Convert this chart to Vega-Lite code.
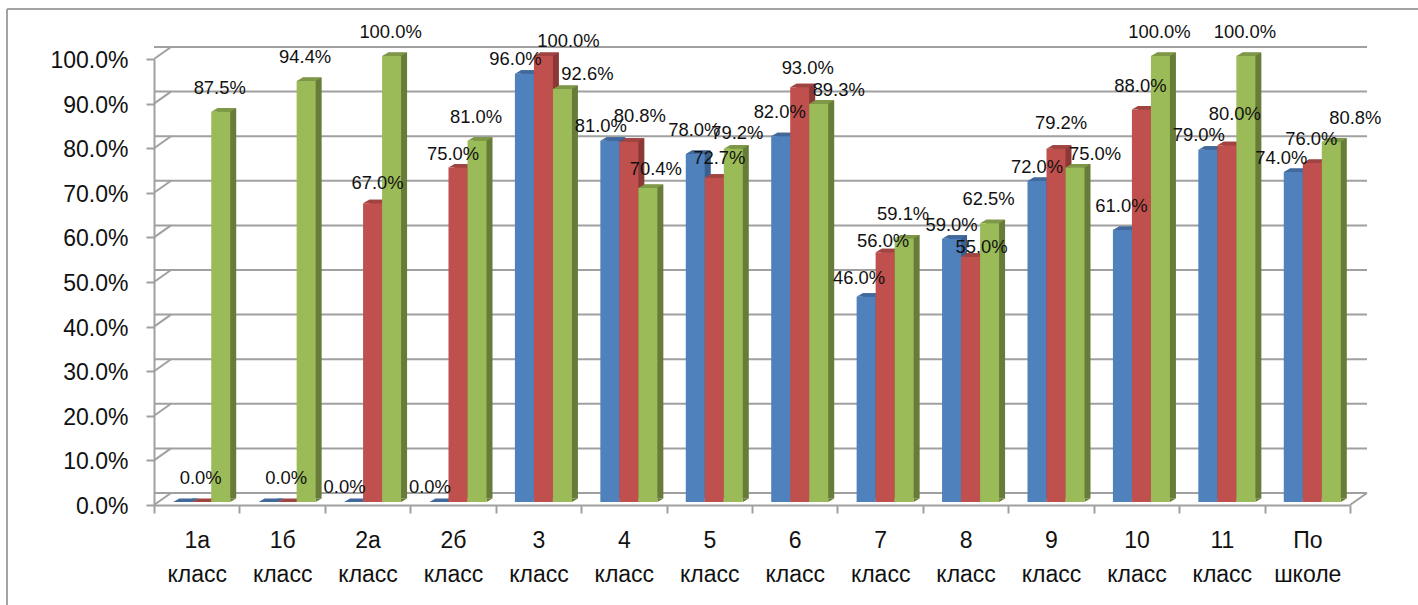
{"$schema":"https://vega.github.io/schema/vega-lite/v6.json","width":1196,"height":446,"autosize":{"type":"none"},"padding":{"left":154,"top":59,"right":68,"bottom":100},"background":"white","config":{"view":{"stroke":null},"text":{"font":"Liberation Sans","fontSize":18.4,"color":"#111111"}},"datasets":{"grid":[{"v":0},{"v":0.1},{"v":0.2},{"v":0.3},{"v":0.4},{"v":0.5},{"v":0.6},{"v":0.7},{"v":0.8},{"v":0.9},{"v":1}],"bars":[
{"id":"1aB","class":"1а класс","series":"Ряд 1","value":0},{"id":"1aR","class":"1а класс","series":"Ряд 2","value":0},{"id":"1aG","class":"1а класс","series":"Ряд 3","value":0.875},
{"id":"1bB","class":"1б класс","series":"Ряд 1","value":0},{"id":"1bR","class":"1б класс","series":"Ряд 2","value":0},{"id":"1bG","class":"1б класс","series":"Ряд 3","value":0.944},
{"id":"2aB","class":"2а класс","series":"Ряд 1","value":0},{"id":"2aR","class":"2а класс","series":"Ряд 2","value":0.67},{"id":"2aG","class":"2а класс","series":"Ряд 3","value":1},
{"id":"2bB","class":"2б класс","series":"Ряд 1","value":0},{"id":"2bR","class":"2б класс","series":"Ряд 2","value":0.75},{"id":"2bG","class":"2б класс","series":"Ряд 3","value":0.81},
{"id":"3B","class":"3 класс","series":"Ряд 1","value":0.96},{"id":"3R","class":"3 класс","series":"Ряд 2","value":1},{"id":"3G","class":"3 класс","series":"Ряд 3","value":0.926},
{"id":"4B","class":"4 класс","series":"Ряд 1","value":0.81},{"id":"4R","class":"4 класс","series":"Ряд 2","value":0.808},{"id":"4G","class":"4 класс","series":"Ряд 3","value":0.704},
{"id":"5B","class":"5 класс","series":"Ряд 1","value":0.78},{"id":"5R","class":"5 класс","series":"Ряд 2","value":0.727},{"id":"5G","class":"5 класс","series":"Ряд 3","value":0.792},
{"id":"6B","class":"6 класс","series":"Ряд 1","value":0.82},{"id":"6R","class":"6 класс","series":"Ряд 2","value":0.93},{"id":"6G","class":"6 класс","series":"Ряд 3","value":0.893},
{"id":"7B","class":"7 класс","series":"Ряд 1","value":0.46},{"id":"7R","class":"7 класс","series":"Ряд 2","value":0.56},{"id":"7G","class":"7 класс","series":"Ряд 3","value":0.591},
{"id":"8B","class":"8 класс","series":"Ряд 1","value":0.59},{"id":"8R","class":"8 класс","series":"Ряд 2","value":0.55},{"id":"8G","class":"8 класс","series":"Ряд 3","value":0.625},
{"id":"9B","class":"9 класс","series":"Ряд 1","value":0.72},{"id":"9R","class":"9 класс","series":"Ряд 2","value":0.792},{"id":"9G","class":"9 класс","series":"Ряд 3","value":0.75},
{"id":"10B","class":"10 класс","series":"Ряд 1","value":0.61},{"id":"10R","class":"10 класс","series":"Ряд 2","value":0.88},{"id":"10G","class":"10 класс","series":"Ряд 3","value":1},
{"id":"11B","class":"11 класс","series":"Ряд 1","value":0.79},{"id":"11R","class":"11 класс","series":"Ряд 2","value":0.8},{"id":"11G","class":"11 класс","series":"Ряд 3","value":1},
{"id":"SB","class":"По школе","series":"Ряд 1","value":0.74},{"id":"SR","class":"По школе","series":"Ряд 2","value":0.76},{"id":"SG","class":"По школе","series":"Ряд 3","value":0.808}
]},
"resolve":{"scale":{"color":"independent","xOffset":"independent"}},
"layer":[
{"data":{"values":[{"k":"frame"}]},"mark":{"type":"rule","stroke":"#a3a3a3","strokeWidth":2},"encoding":{"x":{"value":-147},"x2":{"value":1264},"y":{"value":-50}}},
{"data":{"values":[{"k":"frame"}]},"mark":{"type":"rule","stroke":"#a3a3a3","strokeWidth":2},"encoding":{"x":{"value":-147},"y":{"value":-50},"y2":{"value":546}}},
{"data":{"name":"grid"},"mark":{"type":"rule","color":"#a0a0a0","strokeWidth":2,"xOffset":17,"x2Offset":17,"yOffset":-12,"y2Offset":-12},"encoding":{"y":{"field":"v","type":"quantitative","scale":{"domain":[0,1],"nice":false},"axis":{"values":[0,0.1,0.2,0.3,0.4,0.5,0.6,0.7,0.8,0.9,1],"format":".1%","title":null,"grid":false,"domainColor":"#a0a0a0","domainWidth":2,"tickColor":"#a0a0a0","tickWidth":2,"tickSize":8,"labelFont":"Liberation Sans","labelFontSize":23,"labelColor":"#111111","labelPadding":18,"labelOffset":1.5}}}},
{"data":{"name":"grid"},"mark":{"type":"point","filled":false,"stroke":"#a0a0a0","strokeWidth":2,"shape":"M0,0L17,-12","size":4,"opacity":1},"encoding":{"x":{"value":0},"y":{"field":"v","type":"quantitative"}}},
{"data":{"values":[{"v":0}]},"mark":{"type":"point","filled":false,"stroke":"#a0a0a0","strokeWidth":2,"shape":"M0,0L17,-12","size":4,"opacity":1},"encoding":{"x":{"value":1196},"y":{"field":"v","type":"quantitative"}}},
{"data":{"name":"bars"},"mark":{"type":"bar","yOffset":-6.5,"y2Offset":-6.5},"encoding":{
"x":{"field":"class","type":"nominal","sort":null,"scale":{"paddingInner":0,"paddingOuter":0},"axis":{"title":null,"labelAngle":0,"tickBand":"extent","domainColor":"#a0a0a0","domainWidth":2,"tickColor":"#a0a0a0","tickWidth":2,"tickSize":8,"labelFont":"Liberation Sans","labelFontSize":23,"labelColor":"#111111","labelPadding":16.5,"labelLineHeight":34,"labelExpr":"split(datum.label,' ')"}},
"xOffset":{"field":"series","type":"nominal","sort":null,"scale":{"paddingOuter":0.747,"paddingInner":0,"align":0.887}},
"y":{"field":"value","type":"quantitative"},
"color":{"field":"series","type":"nominal","legend":null,"scale":{"domain":["Ряд 1","Ряд 2","Ряд 3"],"range":["#3A6090","#8C3836","#667C38"]}}}},
{"data":{"name":"bars"},"resolve":{"scale":{"color":"independent"}},"encoding":{"x":{"field":"class","type":"nominal","sort":null},"xOffset":{"field":"series","type":"nominal","sort":null,"scale":{"paddingOuter":0.747,"paddingInner":0,"align":0.676}},"y":{"field":"value","type":"quantitative"}},
"layer":[
{"mark":{"type":"point","filled":true,"stroke":null,"opacity":1,"size":4,"shape":"M9.5,0L15.5,-3.5L9.5,-3.5Z","yOffset":-3},"encoding":{"y":{"datum":0},"color":{"field":"series","type":"nominal","legend":null,"scale":{"domain":["Ряд 1","Ряд 2","Ряд 3"],"range":["#3A6090","#8C3836","#667C38"]}}}},
{"mark":{"type":"point","filled":true,"stroke":null,"opacity":1,"size":4,"shape":"M-9.5,0L9.5,0L15.5,-3.5L-3.5,-3.5Z","yOffset":-3},"encoding":{"color":{"field":"series","type":"nominal","legend":null,"scale":{"domain":["Ряд 1","Ряд 2","Ряд 3"],"range":["#41699C","#A04441","#7E9847"]}}}},
{"mark":{"type":"bar","yOffset":-3,"y2Offset":-3},"encoding":{"color":{"field":"series","type":"nominal","legend":null,"scale":{"domain":["Ряд 1","Ряд 2","Ряд 3"],"range":["#4F81BD","#C0504D","#9BBB59"]}}}},
{"transform":[{"filter":{"field":"id","oneOf":["1aG","1bG","2aG","2bG","7G","8G","10G","11G","5B","6B","10B","1aR","1bR","10R","SR"]}}],"mark":{"type":"text","dx":-1,"dy":-27},"encoding":{"text":{"field":"value","type":"quantitative","format":".1%"}}},
{"transform":[{"filter":{"field":"id","oneOf":["2aB","2bB","3B","4B","11B"]}}],"mark":{"type":"text","dx":-9,"dy":-18},"encoding":{"text":{"field":"value","type":"quantitative","format":".1%"}}},
{"transform":[{"filter":{"field":"id","oneOf":["SB"]}}],"mark":{"type":"text","dx":-12,"dy":-17},"encoding":{"text":{"field":"value","type":"quantitative","format":".1%"}}},
{"transform":[{"filter":{"field":"id","oneOf":["7B"]}}],"mark":{"type":"text","dx":-7,"dy":-22},"encoding":{"text":{"field":"value","type":"quantitative","format":".1%"}}},
{"transform":[{"filter":{"field":"id","oneOf":["8B","9B"]}}],"mark":{"type":"text","dx":0,"dy":-17},"encoding":{"text":{"field":"value","type":"quantitative","format":".1%"}}},
{"transform":[{"filter":{"field":"id","oneOf":["2aR","5R"]}}],"mark":{"type":"text","dx":5,"dy":-23},"encoding":{"text":{"field":"value","type":"quantitative","format":".1%"}}},
{"transform":[{"filter":{"field":"id","oneOf":["2bR"]}}],"mark":{"type":"text","dx":-5,"dy":-17},"encoding":{"text":{"field":"value","type":"quantitative","format":".1%"}}},
{"transform":[{"filter":{"field":"id","oneOf":["3R","3G"]}}],"mark":{"type":"text","dx":25,"dy":-18},"encoding":{"text":{"field":"value","type":"quantitative","format":".1%"}}},
{"transform":[{"filter":{"field":"id","oneOf":["4R"]}}],"mark":{"type":"text","dx":11,"dy":-29},"encoding":{"text":{"field":"value","type":"quantitative","format":".1%"}}},
{"transform":[{"filter":{"field":"id","oneOf":["9R"]}}],"mark":{"type":"text","dx":5,"dy":-29},"encoding":{"text":{"field":"value","type":"quantitative","format":".1%"}}},
{"transform":[{"filter":{"field":"id","oneOf":["11R"]}}],"mark":{"type":"text","dx":8,"dy":-34},"encoding":{"text":{"field":"value","type":"quantitative","format":".1%"}}},
{"transform":[{"filter":{"field":"id","oneOf":["7R"]}}],"mark":{"type":"text","dx":-2,"dy":-14},"encoding":{"text":{"field":"value","type":"quantitative","format":".1%"}}},
{"transform":[{"filter":{"field":"id","oneOf":["8R"]}}],"mark":{"type":"text","dx":11,"dy":-13},"encoding":{"text":{"field":"value","type":"quantitative","format":".1%"}}},
{"transform":[{"filter":{"field":"id","oneOf":["4G","6R"]}}],"mark":{"type":"text","dx":8,"dy":-22.5},"encoding":{"text":{"field":"value","type":"quantitative","format":".1%"}}},
{"transform":[{"filter":{"field":"id","oneOf":["5G"]}}],"mark":{"type":"text","dx":4,"dy":-19},"encoding":{"text":{"field":"value","type":"quantitative","format":".1%"}}},
{"transform":[{"filter":{"field":"id","oneOf":["6G","9G"]}}],"mark":{"type":"text","dx":20,"dy":-17},"encoding":{"text":{"field":"value","type":"quantitative","format":".1%"}}},
{"transform":[{"filter":{"field":"id","oneOf":["SG"]}}],"mark":{"type":"text","dx":24,"dy":-27},"encoding":{"text":{"field":"value","type":"quantitative","format":".1%"}}}
]}
]}
